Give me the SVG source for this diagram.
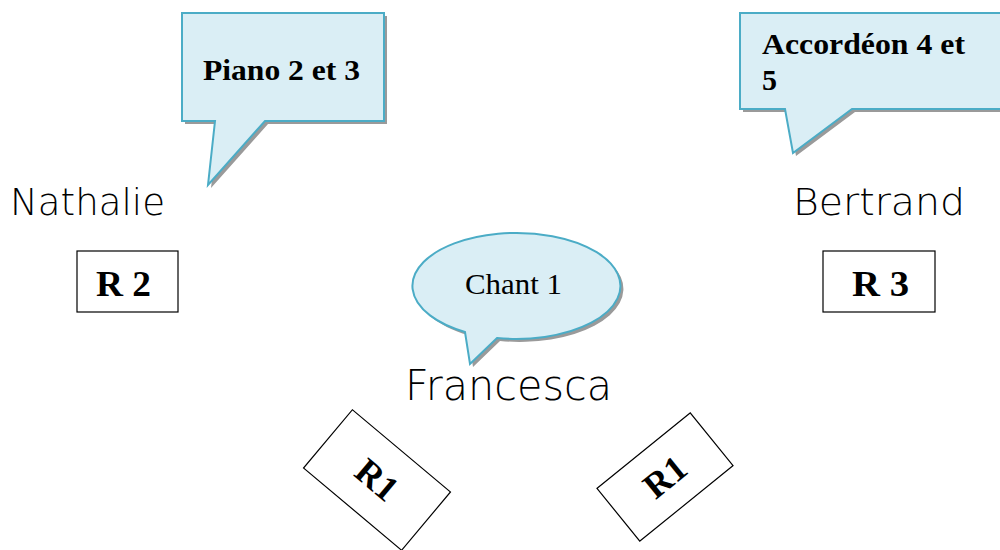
<svg xmlns="http://www.w3.org/2000/svg" width="1000" height="550" viewBox="0 0 1000 550">
<style>
.callout{fill:#daeef5;stroke:#4bacc6;stroke-width:2}
.shadow{fill:#9a9a9a}
.bold{font-family:"Liberation Serif",serif;font-weight:bold;fill:#000}
.name{font-family:"DejaVu Sans","Noto Sans",sans-serif;fill:#000;font-weight:300}
.box{fill:#fff;stroke:#000;stroke-width:1.2}
</style>
<g id="piano">
<path class="shadow" d="M185,16 H387 V124 H268 L211,188 L218,124 H185 Z"/>
<path class="callout" d="M182,13 H384 V121 H265 L208,185 L215,121 H182 Z"/>
<text class="bold" x="203" y="80" font-size="30" textLength="157" lengthAdjust="spacingAndGlyphs">Piano 2 et 3</text>
</g>
<g id="accordeon">
<path class="shadow" d="M743,16 H1003 V112 H855 L796,156 L788,112 H743 Z"/>
<path class="callout" d="M740,13 H1002 V109 H852 L793,153 L785,109 H740 Z"/>
<text class="bold" x="762" y="54" font-size="30" textLength="203" lengthAdjust="spacingAndGlyphs">Accordéon 4 et</text>
<text class="bold" x="762" y="90" font-size="30">5</text>
</g>
<g id="chant">
<path class="shadow" transform="translate(3,3)" d="M465,332 A104,53 0 1 1 497,338 L470,364 Z"/>
<path class="callout" d="M465,332 A104,53 0 1 1 497,338 L470,364 Z"/>
<text x="465" y="294" font-family="Liberation Serif,serif" font-size="30" textLength="97" lengthAdjust="spacingAndGlyphs">Chant 1</text>
</g>
<g id="nathalie"><text class="name" x="10" y="215" font-size="38" textLength="155" lengthAdjust="spacingAndGlyphs">Nathalie</text></g>
<g id="bertrand"><text class="name" x="793" y="215" font-size="38" textLength="172" lengthAdjust="spacingAndGlyphs">Bertrand</text></g>
<g id="francesca"><text class="name" x="405" y="400" font-size="42" textLength="207" lengthAdjust="spacingAndGlyphs">Francesca</text></g>
<g id="r2">
<rect class="box" x="77" y="251" width="101" height="61"/>
<text class="bold" x="96" y="296" font-size="36" textLength="55" lengthAdjust="spacingAndGlyphs">R 2</text>
</g>
<g id="r3">
<rect class="box" x="823" y="251" width="112" height="61"/>
<text class="bold" x="852" y="296" font-size="36" textLength="57" lengthAdjust="spacingAndGlyphs">R 3</text>
</g>
<g id="r1-left" transform="translate(377,480) rotate(40)">
<rect class="box" x="-64" y="-38" width="128" height="76"/>
<text class="bold" x="0" y="12" font-size="36" text-anchor="middle">R1</text>
</g>
<g id="r1-right" transform="translate(665,477) rotate(-39)">
<rect class="box" x="-60" y="-34" width="120" height="68"/>
<text class="bold" x="0" y="12" font-size="36" text-anchor="middle">R1</text>
</g>
<g id="connectors"></g>
</svg>
